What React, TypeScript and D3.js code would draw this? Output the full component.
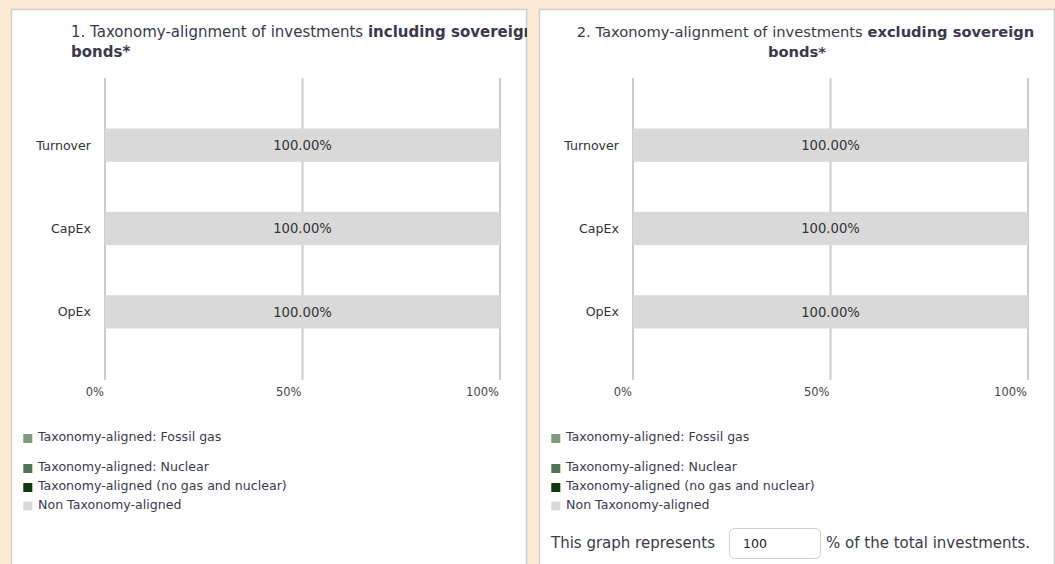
import React from "react";
import * as d3 from "d3";

const categories = ["Turnover", "CapEx", "OpEx"];
const seriesKeys = ["fossilGas", "nuclear", "aligned", "nonAligned"];
const seriesLabels = [
  "Taxonomy-aligned: Fossil gas",
  "Taxonomy-aligned: Nuclear",
  "Taxonomy-aligned (no gas and nuclear)",
  "Non Taxonomy-aligned",
];
const seriesColors = ["#7f9a80", "#4f7552", "#0f3a0c", "#d9d9d9"];

// Chart 1: including sovereign bonds
const incFossilGas = [0, 0, 0];
const incNuclear = [0, 0, 0];
const incAligned = [0, 0, 0];
const incNonAligned = [100, 100, 100];

// Chart 2: excluding sovereign bonds
const excFossilGas = [0, 0, 0];
const excNuclear = [0, 0, 0];
const excAligned = [0, 0, 0];
const excNonAligned = [100, 100, 100];

const tickValues = [0, 50, 100];
const tickLabels = ["0%", "50%", "100%"];
const shareOfInvestments = "100";

const FONT = "'DejaVu Sans', Verdana, sans-serif";
const TEXT = "#3a3a4c";

function buildRows(a: number[], b: number[], c: number[], d: number[]) {
  return categories.map((cat, i) => ({
    category: cat,
    fossilGas: a[i],
    nuclear: b[i],
    aligned: c[i],
    nonAligned: d[i],
  }));
}

function Panel({ ox, rows, titleIdx }: { ox: number; rows: any[]; titleIdx: number }) {
  const x = d3.scaleLinear().domain([0, 100]).range([105, 500]);
  const y = d3.scaleBand().domain(categories).range([78.5, 378.5]).padding(0.6);
  const stacked = d3.stack().keys(seriesKeys)(rows as any);
  const legendBase = [441, 471, 490, 508.5];
  const clipId = `clip${titleIdx}`;
  return (
    <g transform={`translate(${ox},0)`}>
      <defs>
        <clipPath id={clipId}>
          <rect x={11} y={9} width={516} height={600} />
        </clipPath>
      </defs>
      <rect x={11.5} y={9.5} width={515} height={600} fill="#ffffff" stroke="#cfcfcf" strokeWidth={1.5} />
      <g clipPath={`url(#${clipId})`}>
        {titleIdx === 1 ? (
          <text fontFamily={FONT} fontSize={15} fill={TEXT}>
            <tspan x={71} y={37}>1. Taxonomy-alignment of investments <tspan fontWeight="bold">including sovereign</tspan></tspan>
            <tspan x={71} y={57} fontWeight="bold">bonds*</tspan>
          </text>
        ) : (
          <text fontFamily={FONT} fontSize={14.7} fill={TEXT} textAnchor="middle">
            <tspan x={277.5} y={37}>2. Taxonomy-alignment of investments <tspan fontWeight="bold">excluding sovereign</tspan></tspan>
            <tspan x={269} y={57} fontWeight="bold">bonds*</tspan>
          </text>
        )}
        {tickValues.map((t, i) => (
          <g key={t}>
            <line x1={x(t)} x2={x(t)} y1={78} y2={380} stroke="#cccccc" strokeWidth={2} />
            <text x={x(t) - 1} y={396} textAnchor="end" fontFamily={FONT} fontSize={11.5} fill="#444">
              {tickLabels[i]}
            </text>
          </g>
        ))}
        {stacked.map((s: any, si: number) =>
          s.map((d: any, i: number) => {
            const w = x(d[1]) - x(d[0]);
            if (w <= 0) return null;
            const cat = categories[i];
            return (
              <g key={`${si}-${i}`}>
                <rect x={x(d[0])} y={y(cat)} width={w} height={y.bandwidth()} fill={seriesColors[si]} />
                <text
                  x={(x(d[0]) + x(d[1])) / 2}
                  y={(y(cat) as number) + y.bandwidth() / 2 + 4.8}
                  textAnchor="middle"
                  fontFamily={FONT}
                  fontSize={13.2}
                  fill="#333"
                >
                  {(d[1] - d[0]).toFixed(2)}%
                </text>
              </g>
            );
          })
        )}
        {categories.map((c) => (
          <text
            key={c}
            x={91}
            y={(y(c) as number) + y.bandwidth() / 2 + 4.6}
            textAnchor="end"
            fontFamily={FONT}
            fontSize={12.6}
            fill="#333"
          >
            {c}
          </text>
        ))}
        {seriesLabels.map((l, i) => (
          <g key={l}>
            <rect x={23.3} y={legendBase[i] - 7} width={9} height={9} fill={seriesColors[i]} />
            <text x={38} y={legendBase[i]} fontFamily={FONT} fontSize={12.6} fill={TEXT}>
              {l}
            </text>
          </g>
        ))}
      </g>
    </g>
  );
}

export default function App() {
  const rows1 = buildRows(incFossilGas, incNuclear, incAligned, incNonAligned);
  const rows2 = buildRows(excFossilGas, excNuclear, excAligned, excNonAligned);
  return (
    <svg
      width={1055}
      height={564}
      style={{ position: "absolute", left: 0, top: 0, display: "block" }}
    >
      <rect x={0} y={0} width={1055} height={564} fill="#fbe8d5" />
      <Panel ox={0} rows={rows1} titleIdx={1} />
      <Panel ox={528} rows={rows2} titleIdx={2} />
      <g>
        <text x={551} y={548} fontFamily={FONT} fontSize={15} fill={TEXT}>
          This graph represents
        </text>
        <rect x={729.5} y={528.5} width={91} height={30} rx={5} fill="#fff" stroke="#cfcfcf" strokeWidth={1} />
        <text x={743} y={547.5} fontFamily={FONT} fontSize={12.5} fill="#222">
          {shareOfInvestments}
        </text>
        <text x={826} y={548} fontFamily={FONT} fontSize={15} fill={TEXT}>
          % of the total investments.
        </text>
      </g>
    </svg>
  );
}
